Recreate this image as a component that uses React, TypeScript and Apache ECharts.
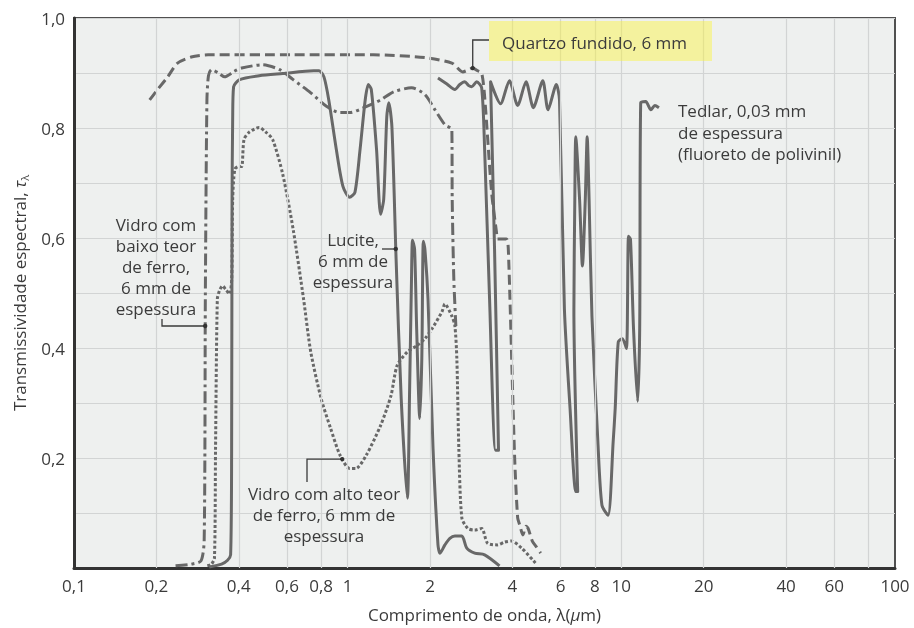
import React, { useEffect, useRef } from 'react';
import * as echarts from 'echarts';

// ---------- data (wavelength in µm, transmissivity) ----------
const X_TICKS = [0.1, 0.2, 0.4, 0.6, 0.8, 1, 2, 4, 6, 8, 10, 20, 40, 60, 100];
const X_GRID = [0.2, 0.4, 0.6, 0.8, 1, 2, 4, 6, 8, 10, 20, 40, 60, 80];

const QUARTZ = [
  [0.189, 0.851], [0.202, 0.87], [0.22, 0.893], [0.239, 0.918], [0.268, 0.929], [0.309, 0.933],
  [0.632, 0.933], [1.242, 0.933], [1.915, 0.928], [2.403, 0.918], [2.634, 0.902], [2.77, 0.906],
  [2.864, 0.909], [2.987, 0.904], [3.088, 0.9], [3.166, 0.857], [3.357, 0.683], [3.499, 0.61],
  [3.528, 0.598], [3.804, 0.598], [3.868, 0.574], [4.072, 0.205], [4.18, 0.091], [4.255, 0.078],
  [4.369, 0.06], [4.485, 0.076], [4.564, 0.072], [4.728, 0.049], [4.898, 0.038], [5.074, 0.027],
];

const LOW_IRON = [
  [0.235, 0.004], [0.268, 0.007], [0.291, 0.013], [0.299, 0.05], [0.302, 0.5], [0.306, 0.85],
  [0.31, 0.895], [0.318, 0.906], [0.337, 0.9], [0.355, 0.893], [0.385, 0.903], [0.41, 0.909],
  [0.488, 0.915], [0.565, 0.906], [0.632, 0.888], [0.733, 0.864], [0.839, 0.839], [0.938, 0.828],
  [1.017, 0.828], [1.169, 0.839], [1.319, 0.851], [1.477, 0.866], [1.711, 0.873], [1.915, 0.861],
  [2.085, 0.833], [2.266, 0.806], [2.403, 0.797], [2.41, 0.67], [2.443, 0.525], [2.485, 0.44],
];

const HIGH_IRON = [
  [0.307, 0.004], [0.318, 0.007], [0.326, 0.018], [0.329, 0.217], [0.334, 0.489], [0.34, 0.504],
  [0.349, 0.513], [0.358, 0.507], [0.37, 0.498], [0.377, 0.525], [0.38, 0.67], [0.387, 0.725],
  [0.4, 0.73], [0.41, 0.73], [0.418, 0.779], [0.436, 0.792], [0.475, 0.801], [0.501, 0.793],
  [0.532, 0.779], [0.579, 0.716], [0.632, 0.616], [0.69, 0.489], [0.733, 0.393], [0.8, 0.308],
  [0.866, 0.254], [0.938, 0.205], [1.017, 0.181], [1.072, 0.181], [1.169, 0.205], [1.319, 0.259],
  [1.439, 0.313], [1.516, 0.368], [1.653, 0.393], [1.787, 0.404], [1.915, 0.417], [2.034, 0.435],
  [2.211, 0.466], [2.266, 0.48], [2.403, 0.458], [2.465, 0.44], [2.506, 0.38], [2.548, 0.217],
  [2.613, 0.091], [2.747, 0.072], [2.912, 0.069], [3.088, 0.072], [3.246, 0.045], [3.528, 0.042],
  [3.741, 0.047], [3.966, 0.049], [4.328, 0.036], [4.855, 0.009],
];

const LUCITE = [
  [0.312, 0.002], [0.346, 0.007], [0.364, 0.014], [0.3735, 0.024], [0.3767, 0.217], [0.378, 0.67],
  [0.38, 0.815], [0.383, 0.875], [0.403, 0.888], [0.475, 0.895], [0.579, 0.899], [0.752, 0.904],
  [0.786, 0.904], [0.819, 0.893], [0.853, 0.851], [0.909, 0.761], [0.961, 0.694], [1.017, 0.674],
  [1.063, 0.683], [1.11, 0.761], [1.159, 0.851], [1.19, 0.879], [1.22, 0.87], [1.275, 0.761],
  [1.319, 0.643], [1.354, 0.67], [1.39, 0.821], [1.414, 0.846], [1.451, 0.802], [1.503, 0.562],
  [1.569, 0.308], [1.653, 0.127], [1.682, 0.308], [1.711, 0.525], [1.726, 0.596], [1.756, 0.58],
  [1.787, 0.435], [1.834, 0.272], [1.866, 0.38], [1.89, 0.594], [1.915, 0.58], [1.966, 0.489],
  [2.051, 0.217], [2.138, 0.042], [2.175, 0.027], [2.266, 0.042], [2.363, 0.054], [2.465, 0.058],
  [2.613, 0.058], [2.724, 0.036], [2.912, 0.027], [3.166, 0.024], [3.588, 0.004],
];

const TEDLAR = [
  [2.138, 0.891], [2.305, 0.88], [2.465, 0.87], [2.569, 0.879], [2.679, 0.884], [2.77, 0.877],
  [2.84, 0.875], [2.961, 0.884], [3.088, 0.873], [3.166, 0.761], [3.3, 0.489], [3.47, 0.214],
  [3.558, 0.214], [3.441, 0.58], [3.328, 0.884], [3.619, 0.844], [3.9, 0.886], [4.18, 0.841],
  [4.485, 0.884], [4.77, 0.837], [5.164, 0.886], [5.397, 0.833], [5.789, 0.879], [5.944, 0.851],
  [6.194, 0.471], [6.496, 0.29], [6.817, 0.139], [6.927, 0.139], [6.709, 0.471], [6.761, 0.67],
  [6.817, 0.784], [7.038, 0.67], [7.209, 0.549], [7.384, 0.67], [7.503, 0.784], [7.624, 0.67],
  [7.809, 0.458], [8.208, 0.23], [8.495, 0.114], [8.945, 0.096], [9.337, 0.23], [9.497, 0.29],
  [9.746, 0.411], [10.09, 0.417], [10.44, 0.399], [10.62, 0.603], [10.8, 0.598], [11.08, 0.435],
  [11.47, 0.303], [11.67, 0.435], [11.77, 0.846], [12.28, 0.848], [12.82, 0.833], [13.26, 0.841],
  [13.72, 0.837],
];

// annotation anchor points on the curves (data coords)
const QUARTZ_ANCHOR = [2.864, 0.909];
const LOW_IRON_ANCHOR = [0.3015, 0.44];
const LUCITE_ANCHOR = [1.499, 0.58];
const HIGH_IRON_ANCHOR = [0.955, 0.198];

const FONT = '"Open Sans", "DejaVu Sans", sans-serif';
const FS = 17;
const LH = 21;
const TEXT = '#3b3b3b';
const CURVE = '#686868';

const fmtComma = (v: number) => String(v).replace('.', ',');

export default function App() {
  const ref = useRef<HTMLDivElement>(null);

  useEffect(() => {
    if (!ref.current) return;
    const chart = echarts.init(ref.current, null, { renderer: 'svg' });

    const curve = (name: string, data: number[][], type: any, width: number) => ({
      name,
      type: 'line',
      data,
      showSymbol: false,
      symbol: 'none',
      smooth: 0.25,
      z: 3,
      lineStyle: { color: CURVE, width, type, cap: 'butt', join: 'round' },
    });

    const option: any = {
      animation: false,
      textStyle: { fontFamily: FONT },
      grid: {
        left: 72,
        right: 19,
        top: 18,
        bottom: 58,
        show: true,
        backgroundColor: '#eef0ef',
        borderColor: '#505050',
        borderWidth: 2,
      },
      xAxis: {
        type: 'log',
        logBase: 10,
        min: 0.1,
        max: 100,
        name: 'Comprimento de onda, λ({i|μ}m)',
        nameLocation: 'middle',
        nameGap: 38,
        nameTextStyle: {
          fontFamily: FONT,
          fontSize: FS,
          color: TEXT,
          rich: { i: { fontFamily: FONT, fontSize: FS, color: TEXT, fontStyle: 'italic' } },
        },
        axisLine: { show: true, lineStyle: { color: '#333', width: 3 } },
        axisTick: { show: false },
        splitLine: { show: false },
        minorTick: { show: false },
        axisLabel: {
          customValues: X_TICKS,
          formatter: (v: number) => fmtComma(v),
          color: TEXT,
          fontFamily: FONT,
          fontSize: FS,
          margin: 9,
        },
      },
      yAxis: {
        type: 'value',
        min: 0,
        max: 1,
        interval: 0.1,
        name: 'Transmissividade espectral, {t|τ}{s|λ}',
        nameLocation: 'middle',
        nameGap: 44,
        nameTextStyle: {
          fontFamily: FONT,
          fontSize: FS,
          color: TEXT,
          lineHeight: 22,
          rich: {
            t: { fontFamily: FONT, fontSize: FS, color: TEXT, fontStyle: 'italic', lineHeight: 22 },
            s: { fontFamily: FONT, fontSize: 11, color: TEXT, verticalAlign: 'bottom', lineHeight: 14 },
          },
        },
        axisLine: { show: true, lineStyle: { color: '#333', width: 3 } },
        axisTick: { show: false },
        splitLine: { show: true, lineStyle: { color: '#d2d4d4', width: 1.2 } },
        axisLabel: {
          color: TEXT,
          fontFamily: FONT,
          fontSize: FS,
          margin: 9,
          formatter: (v: number) => {
            const r = Math.round(v * 10);
            if (r === 0 || r % 2 !== 0) return '';
            return (r / 10).toFixed(1).replace('.', ',');
          },
        },
      },
      series: [
        {
          name: 'grid',
          type: 'line',
          data: [],
          z: 1,
          silent: true,
          markLine: {
            silent: true,
            symbol: ['none', 'none'],
            label: { show: false },
            lineStyle: { color: '#d2d4d4', width: 1.2, type: 'solid' },
            data: X_GRID.map((v) => ({ xAxis: v })),
          },
        },
        curve('Quartzo fundido, 6 mm', QUARTZ, [10, 5], 3),
        curve('Vidro com baixo teor de ferro', LOW_IRON, [12, 4, 3, 4], 3),
        curve('Vidro com alto teor de ferro', HIGH_IRON, [3, 2.2], 3),
        curve('Lucite', LUCITE, 'solid', 3),
        curve('Tedlar', TEDLAR, 'solid', 3),
      ],
    };

    chart.setOption(option);

    const px = (p: number[]) => chart.convertToPixel({ gridIndex: 0 }, p) as number[];
    const qa = px(QUARTZ_ANCHOR);
    const la = px(LOW_IRON_ANCHOR);
    const lu = px(LUCITE_ANCHOR);
    const ha = px(HIGH_IRON_ANCHOR);

    const lead = { stroke: '#3a3a3a', lineWidth: 1.3, fill: 'none' };
    const dot = (p: number[]) => ({
      type: 'circle',
      z: 101,
      shape: { cx: p[0], cy: p[1], r: 2.2 },
      style: { fill: '#333' },
    });
    const txt = (x: number, y: number, text: string, align: string, lh: number) => ({
      type: 'text',
      z: 102,
      x,
      y,
      style: {
        text,
        font: `${FS}px ${FONT}`,
        fill: TEXT,
        align,
        textAlign: align,
        verticalAlign: 'top',
        textVerticalAlign: 'top',
        lineHeight: lh,
      },
    });

    chart.setOption({
      graphic: [
        {
          type: 'rect',
          z: 50,
          shape: { x: 489, y: 21, width: 223, height: 40 },
          style: { fill: 'rgba(250,245,60,0.45)' },
        },
        txt(502, 31, 'Quartzo fundido, 6 mm', 'left', 22),
        {
          type: 'polyline',
          z: 100,
          shape: { points: [[qa[0], qa[1]], [qa[0], 40], [489, 40]] },
          style: lead,
        },
        dot(qa),
        txt(678, 100, 'Tedlar, 0,03 mm\nde espessura\n(fluoreto de polivinil)', 'left', 21.5),
        txt(156, 214, 'Vidro com\nbaixo teor\nde ferro,\n6 mm de\nespessura', 'center', LH),
        {
          type: 'polyline',
          z: 100,
          shape: { points: [[162, 319], [162, la[1]], [la[0], la[1]]] },
          style: lead,
        },
        dot(la),
        txt(353, 229, 'Lucite,\n6 mm de\nespessura', 'center', LH),
        {
          type: 'polyline',
          z: 100,
          shape: { points: [[382, lu[1]], [lu[0], lu[1]]] },
          style: lead,
        },
        dot(lu),
        txt(324, 483, 'Vidro com alto teor\nde ferro, 6 mm de\nespessura', 'center', LH),
        {
          type: 'polyline',
          z: 100,
          shape: { points: [[307, 482], [307, ha[1]], [ha[0], ha[1]]] },
          style: lead,
        },
        dot(ha),
      ],
    });

    return () => chart.dispose();
  }, []);

  return <div ref={ref} style={{ position: 'fixed', left: 0, top: 0, width: 914, height: 628 }} />;
}
